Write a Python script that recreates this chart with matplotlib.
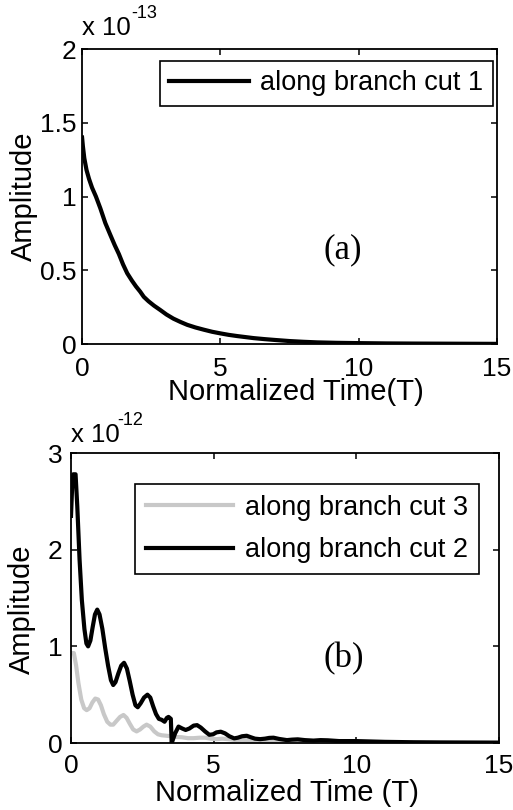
import matplotlib
matplotlib.use("Agg")
import matplotlib.pyplot as plt

plt.rcParams['font.family'] = ['Liberation Sans', 'DejaVu Sans']

# panel (a): branch cut 1, amplitude in units of 1e-13
t_a = [0.0, 0.03, 0.08, 0.16, 0.25, 0.36, 0.5, 0.66, 0.84, 1.02, 1.18, 1.33,
       1.48, 1.63, 1.8, 1.95, 2.1, 2.23, 2.4, 2.6, 2.83, 3.05, 3.3, 3.55,
       3.8, 4.1, 4.4, 4.7, 5.0, 5.3, 5.6, 5.9, 6.2, 6.6, 7.0, 7.5,
       8.0, 8.5, 9.2, 10.0, 11.0, 12.0, 13.5, 15.0]
amp_a = [1.40, 1.34, 1.26, 1.18, 1.12, 1.06, 1.00, 0.92, 0.82, 0.74, 0.67, 0.61,
         0.54, 0.48, 0.43, 0.39, 0.355, 0.32, 0.29, 0.26, 0.23, 0.20, 0.172, 0.15,
         0.13, 0.112, 0.097, 0.083, 0.072, 0.062, 0.054, 0.047, 0.04, 0.033, 0.027, 0.02,
         0.015, 0.011, 0.008, 0.006, 0.004, 0.003, 0.002, 0.001]

# panel (b): branch cuts 2 and 3, amplitude in units of 1e-12
t_b2 = [0.0, 0.04, 0.08, 0.16, 0.22, 0.3, 0.38, 0.47, 0.54, 0.6, 0.68, 0.76,
        0.84, 0.92, 1.0, 1.1, 1.2, 1.3, 1.4, 1.48, 1.56, 1.66, 1.76, 1.86,
        1.96, 2.06, 2.16, 2.26, 2.34, 2.44, 2.56, 2.68, 2.78, 2.88, 2.98, 3.08,
        3.18, 3.28, 3.36, 3.42, 3.5, 3.53, 3.65, 3.77, 3.9, 4.02, 4.15, 4.3,
        4.42, 4.55, 4.7, 4.85, 4.98, 5.1, 5.25, 5.4, 5.55, 5.72, 5.85, 6.0,
        6.16, 6.3, 6.45, 6.63, 6.8, 6.95, 7.1, 7.3, 7.57, 7.75, 7.95, 8.2,
        8.5, 8.75, 9.0, 9.4, 10.0, 11.0, 12.0, 13.0, 14.0, 15.0]
amp_b2 = [2.35, 2.65, 2.78, 2.78, 2.45, 1.9, 1.48, 1.18, 1.03, 1.0, 1.06, 1.2,
          1.33, 1.38, 1.33, 1.18, 0.98, 0.8, 0.65, 0.6, 0.63, 0.72, 0.8, 0.83,
          0.77, 0.64, 0.5, 0.39, 0.37, 0.41, 0.47, 0.5, 0.47, 0.38, 0.3, 0.25,
          0.24, 0.22, 0.26, 0.27, 0.25, 0.0, 0.1, 0.17, 0.15, 0.135, 0.15, 0.18,
          0.185, 0.16, 0.12, 0.085, 0.09, 0.11, 0.117, 0.1, 0.07, 0.048, 0.055, 0.07,
          0.075, 0.06, 0.045, 0.04, 0.045, 0.053, 0.055, 0.042, 0.03, 0.035, 0.038, 0.03,
          0.025, 0.03, 0.028, 0.02, 0.02, 0.012, 0.008, 0.006, 0.005, 0.004]

t_b3 = [0.0, 0.1, 0.18, 0.26, 0.36, 0.46, 0.55, 0.65, 0.75, 0.85, 0.95, 1.05,
        1.15, 1.27, 1.38, 1.48, 1.6, 1.72, 1.84, 1.95, 2.06, 2.18, 2.3, 2.42,
        2.54, 2.65, 2.78, 2.92, 3.05, 3.18, 3.35, 3.5, 3.7, 3.88, 4.1, 4.3,
        4.5, 4.7, 4.9, 5.1, 5.3, 5.5, 5.8, 6.0, 6.2, 6.6, 7.2, 8.0,
        9.0, 10.0, 12.0, 15.0]
amp_b3 = [0.93, 0.93, 0.8, 0.62, 0.45, 0.36, 0.34, 0.36, 0.42, 0.46, 0.45, 0.39,
          0.3, 0.22, 0.19, 0.19, 0.23, 0.27, 0.29, 0.26, 0.2, 0.14, 0.12, 0.14,
          0.17, 0.19, 0.17, 0.12, 0.09, 0.08, 0.075, 0.07, 0.062, 0.06, 0.05, 0.05,
          0.055, 0.055, 0.045, 0.04, 0.045, 0.04, 0.03, 0.033, 0.03, 0.02, 0.012, 0.008,
          0.005, 0.004, 0.002, 0.001]

x_ticks = [0, 5, 10, 15]
y_ticks_a = [0, 0.5, 1, 1.5, 2]
y_ticks_b = [0, 1, 2, 3]

TICK_FS = 19
LABEL_FS = 21
LEG_FS = 19.5
LW = 3.0


def style_axes(ax, xpad, ypad):
    for sp in ax.spines.values():
        sp.set_linewidth(1.3)
    ax.tick_params(direction='in', length=4, width=1.1, top=True, right=True,
                   labelsize=TICK_FS)
    ax.tick_params(axis='x', pad=xpad)
    ax.tick_params(axis='y', pad=ypad)


def style_legend(leg):
    frame = leg.get_frame()
    frame.set_edgecolor('black')
    frame.set_linewidth(1.2)


fig = plt.figure(figsize=(5.13, 8.10), dpi=100)

# ---- panel (a)
ax1 = fig.add_axes([0.160, 0.5753, 0.809, 0.3642])
ax1.plot(t_a, amp_a, color='black', lw=LW, solid_joinstyle='round',
         label='along branch cut 1')
ax1.set_xlim(0, 15)
ax1.set_ylim(0, 2)
ax1.set_xticks(x_ticks)
ax1.set_yticks(y_ticks_a)
ax1.set_yticklabels(['0', '0.5', '1', '1.5', '2'])
style_axes(ax1, 9, 4)
ax1.set_xlabel('Normalized Time(T)', fontsize=LABEL_FS)
ax1.set_ylabel('Amplitude', fontsize=LABEL_FS)
ax1.xaxis.set_label_coords(0.516, -0.163)
ax1.xaxis.label.set_va('center')
ax1.yaxis.set_label_coords(-0.14, 0.50)
ax1.yaxis.label.set_va('center')
ax1.text(0.0, 1.047, 'x 10', transform=ax1.transAxes, fontsize=18.5,
         ha='left', va='baseline')
ax1.text(0.118, 1.105, '-13', transform=ax1.transAxes, fontsize=13,
         ha='left', va='baseline')
ax1.text(9.43, 0.64, '(a)', fontsize=25, family='Liberation Serif',
         ha='center', va='center')
leg1 = ax1.legend(loc='upper right', bbox_to_anchor=(0.989, 0.960),
                  fontsize=LEG_FS, handlelength=2.95, handletextpad=0.4,
                  borderpad=0.35, borderaxespad=0, fancybox=False, framealpha=1)
style_legend(leg1)

# ---- panel (b)
ax2 = fig.add_axes([0.1384, 0.0827, 0.834, 0.358])
ax2.plot(t_b3, amp_b3, color='#c8c8c8', lw=LW, solid_joinstyle='round',
         label='along branch cut 3')
ax2.plot(t_b2, amp_b2, color='black', lw=LW, solid_joinstyle='round',
         label='along branch cut 2')
ax2.set_xlim(0, 15)
ax2.set_ylim(0, 3)
ax2.set_xticks(x_ticks)
ax2.set_yticks(y_ticks_b)
style_axes(ax2, 8, 6)
ax2.set_xlabel('Normalized Time (T)', fontsize=LABEL_FS)
ax2.set_ylabel('Amplitude', fontsize=LABEL_FS)
ax2.xaxis.set_label_coords(0.505, -0.172)
ax2.xaxis.label.set_va('center')
ax2.yaxis.set_label_coords(-0.114, 0.46)
ax2.yaxis.label.set_va('center')
ax2.text(0.0, 1.038, 'x 10', transform=ax2.transAxes, fontsize=18.5,
         ha='left', va='baseline')
ax2.text(0.107, 1.097, '-12', transform=ax2.transAxes, fontsize=13,
         ha='left', va='baseline')
ax2.text(9.55, 0.876, '(b)', fontsize=25, family='Liberation Serif',
         ha='center', va='center')
leg2 = ax2.legend(loc='upper right', bbox_to_anchor=(0.953, 0.893),
                  fontsize=LEG_FS, handlelength=3.2, handletextpad=0.45,
                  borderpad=0.4, borderaxespad=0, labelspacing=0.6,
                  fancybox=False, framealpha=1)
style_legend(leg2)

fig.savefig('out.png', dpi=100)
